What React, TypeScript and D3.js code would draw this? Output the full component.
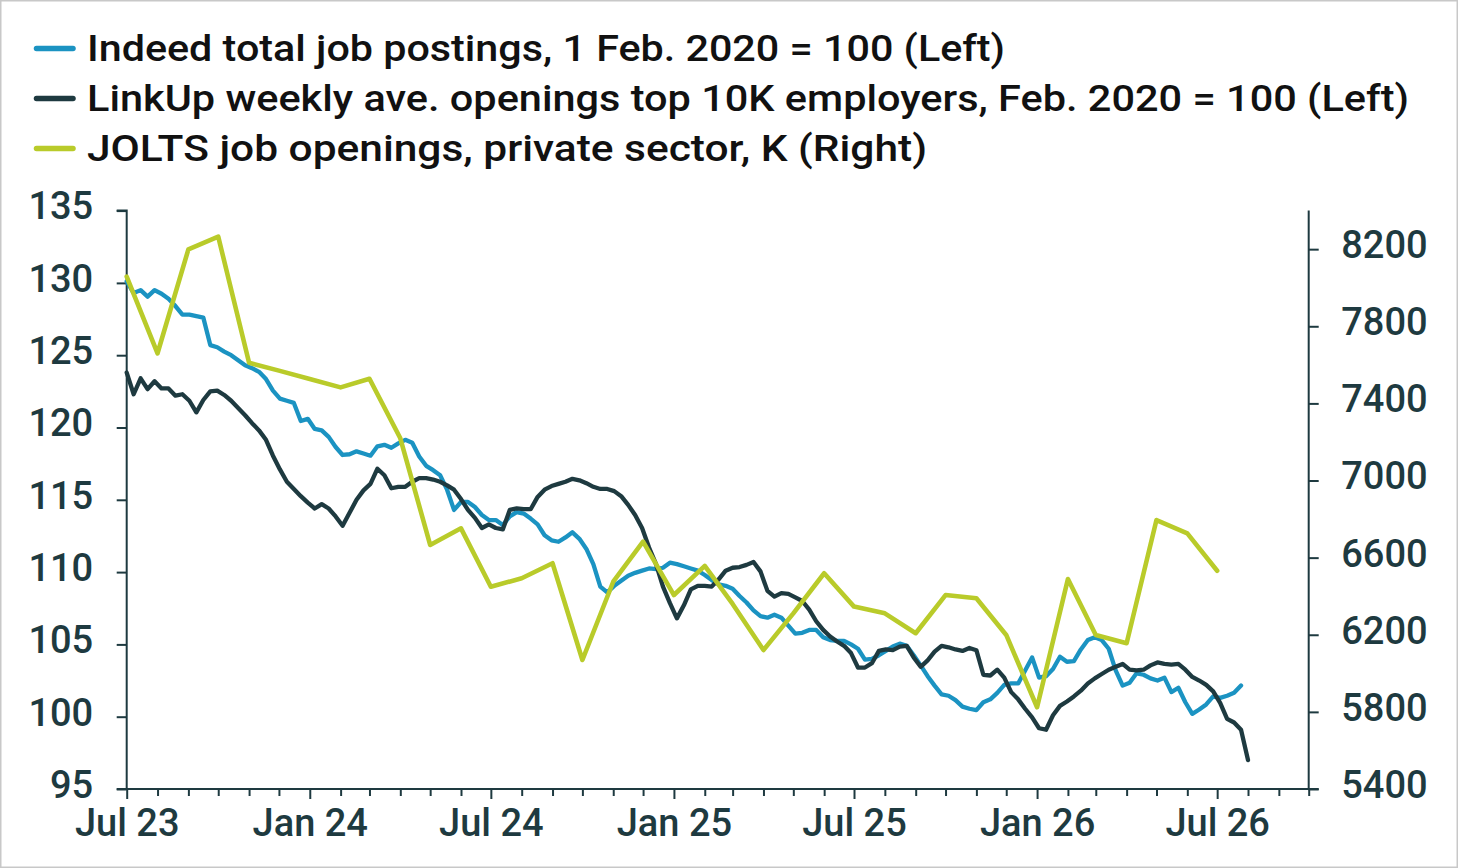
import { useEffect, useRef } from "react"
import * as d3 from "d3"

// Indeed total job postings (1 Feb 2020 = 100), sampled weekly from 1 Jul 2023
const indeedStart = new Date(2023, 6, 1)
const indeedWeekly = [
  130.1, 129.3, 129.5, 129.05, 129.5, 129.25, 128.9, 128.4, 127.8, 127.8,
  127.7, 127.6, 125.7, 125.55, 125.25, 125.0, 124.65, 124.3, 124.1, 123.85,
  123.35, 122.55, 122.0, 121.85, 121.7, 120.45, 120.6, 119.9, 119.8, 119.35,
  118.65, 118.1, 118.15, 118.35, 118.2, 118.05, 118.7, 118.8, 118.6, 118.9,
  119.15, 118.95, 118.0, 117.35, 117.05, 116.7, 115.7, 114.3, 114.85, 114.85,
  114.5, 113.95, 113.6, 113.6, 113.25, 113.85, 114.15, 114.05, 113.7, 113.3,
  112.55, 112.2, 112.1, 112.4, 112.75, 112.3, 111.6, 110.55, 109.0, 108.6,
  109.05, 109.4, 109.75, 109.95, 110.1, 110.25, 110.2, 110.3, 110.65, 110.55,
  110.4, 110.25, 110.1, 109.8, 109.45, 109.15, 109.05, 108.85, 108.35, 107.9,
  107.35, 106.95, 106.85, 107.05, 106.85, 106.3, 105.75, 105.8, 106.0, 106.0,
  105.5, 105.3, 105.25, 105.25, 105.0, 104.7, 103.95, 104.0, 104.25, 104.55,
  104.85, 105.05, 104.9, 104.25, 103.55, 102.8, 102.15, 101.55, 101.45, 101.15,
  100.7, 100.55, 100.45, 101.0, 101.2, 101.65, 102.2, 102.3, 102.3, 103.2,
  104.1, 102.7, 102.8, 103.3, 104.15, 103.8, 103.85, 104.65, 105.3, 105.5,
  105.3, 104.7, 103.2, 102.15, 102.35, 103.0, 102.9, 102.65, 102.5, 102.7,
  101.7, 102.0, 101.0, 100.2, 100.5, 100.85, 101.4, 101.3, 101.45, 101.65,
  102.15,
]

// LinkUp weekly ave. openings, top 10K employers (Feb 2020 = 100)
const linkupStart = new Date(2023, 6, 1)
const linkupWeekly = [
  123.8, 122.3, 123.4, 122.65, 123.2, 122.7, 122.7, 122.2, 122.3, 121.85,
  121.05, 121.9, 122.5, 122.55, 122.25, 121.85, 121.35, 120.85, 120.3, 119.8,
  119.15, 118.05, 117.1, 116.25, 115.75, 115.25, 114.8, 114.4, 114.7, 114.4,
  113.85, 113.2, 114.1, 115.0, 115.65, 116.1, 117.15, 116.7, 115.8, 115.9,
  115.9, 116.25, 116.5, 116.5, 116.4, 116.25, 116.0, 115.7, 115.05, 114.3,
  113.75, 113.05, 113.3, 113.05, 112.95, 114.3, 114.4, 114.35, 114.35, 115.2,
  115.7, 115.95, 116.1, 116.25, 116.45, 116.35, 116.15, 115.9, 115.75, 115.75,
  115.6, 115.25, 114.65, 113.95, 113.05, 111.7, 110.55, 109.0, 107.85, 106.8,
  107.7, 108.8, 109.05, 109.05, 109.0, 109.5, 110.1, 110.3, 110.35, 110.5,
  110.7, 110.05, 108.7, 108.3, 108.55, 108.5, 108.25, 108.0, 107.4, 106.6,
  106.0, 105.55, 105.2, 104.9, 104.4, 103.4, 103.4, 103.7, 104.55, 104.65,
  104.6, 104.85, 104.9, 104.1, 103.45, 103.9, 104.5, 104.9, 104.8, 104.65,
  104.55, 104.75, 104.6, 102.9, 102.85, 103.25, 102.7, 101.7, 101.2, 100.55,
  99.95, 99.2, 99.1, 100.1, 100.75, 101.05, 101.4, 101.8, 102.3, 102.65,
  102.95, 103.25, 103.45, 103.65, 103.25, 103.2, 103.25, 103.55, 103.75, 103.65,
  103.6, 103.65, 103.25, 102.75, 102.5, 102.2, 101.75, 100.95, 99.85, 99.6,
  99.1, 97.0,
]

// JOLTS job openings, private sector, K — monthly from Jul 2023
const joltsStart = new Date(2023, 6, 1)
const joltsMonthly = [
  8057, 7660, 8199, 8265, 7611, 7570, 7527, 7483, 7528, 7219, 6666, 6752,
  6449, 6493, 6571, 6069, 6475, 6683, 6406, 6557, 6360, 6121, 6311, 6519,
  6346, 6311, 6208, 6406, 6389, 6199, 5824, 6489, 6199, 6156, 6795, 6726,
  6532,
]

const leftTicks = [95, 100, 105, 110, 115, 120, 125, 130, 135]
const rightTicks = [5400, 5800, 6200, 6600, 7000, 7400, 7800, 8200]

const legendItems = [
  { label: "Indeed total job postings, 1 Feb. 2020 = 100 (Left)", color: "#1b93c2", width: 918 },
  { label: "LinkUp weekly ave. openings top 10K employers, Feb. 2020 = 100 (Left)", color: "#1e3a40", width: 1322 },
  { label: "JOLTS job openings, private sector, K (Right)", color: "#b9cb2a", width: 840 },
]

const W = 1458
const H = 868
const FONT = "Roboto, 'Liberation Sans', sans-serif"
const INK = "#1e3a40"

export default function App() {
  const svgRef = useRef<SVGSVGElement>(null)

  useEffect(() => {
    if (!svgRef.current) return
    const svg = d3.select(svgRef.current)
    svg.selectAll("*").remove()

    const plot = { left: 126.7, right: 1308.7, top: 210.6, bottom: 789 }

    const x = d3
      .scaleTime()
      .domain([new Date(2023, 6, 1), new Date(2026, 9, 1)])
      .range([plot.left, plot.right])
    const yL = d3.scaleLinear().domain([95, 135]).range([plot.bottom, plot.top])
    const yR = d3.scaleLinear().domain([5400, 8400]).range([plot.bottom, plot.top])

    // frame
    svg
      .append("rect")
      .attr("x", 0.75)
      .attr("y", 0.75)
      .attr("width", W - 1.5)
      .attr("height", H - 1.5)
      .attr("fill", "#fff")
      .attr("stroke", "#c8c8c8")
      .attr("stroke-width", 1.5)

    // legend
    const legend = svg.append("g")
    legendItems.forEach((d, i) => {
      const cy = 48.5 + i * 50
      legend
        .append("line")
        .attr("x1", 36.5)
        .attr("x2", 73)
        .attr("y1", cy)
        .attr("y2", cy)
        .attr("stroke", d.color)
        .attr("stroke-width", 5.5)
        .attr("stroke-linecap", "round")
      legend
        .append("text")
        .attr("x", 87)
        .attr("y", cy + 12.7)
        .attr("font-family", FONT)
        .attr("font-size", 36)
        .attr("font-weight", 500)
        .attr("fill", "#111")
        .attr("textLength", d.width)
        .attr("lengthAdjust", "spacingAndGlyphs")
        .text(d.label)
    })

    // bottom axis
    const months = d3.timeMonth.range(new Date(2023, 6, 1), new Date(2026, 9, 2))
    const fmt = d3.timeFormat("%b %y")
    const xAxis = svg
      .append("g")
      .attr("transform", `translate(0,${plot.bottom})`)
      .call(
        d3
          .axisBottom(x)
          .tickValues(months)
          .tickSize(7)
          .tickFormat((d) => {
            const m = (d as Date).getMonth()
            return m === 0 || m === 6 ? fmt(d as Date) : ""
          })
      )
    xAxis.selectAll(".tick line").attr("y2", (d) => {
      const m = (d as Date).getMonth()
      return m === 0 || m === 6 ? 10 : 7
    })
    xAxis.selectAll(".tick text").attr("y", 47).attr("dy", 0)

    // left axis
    const leftAxis = svg
      .append("g")
      .attr("transform", `translate(${plot.left},0)`)
      .call(d3.axisLeft(yL).tickValues(leftTicks).tickSize(10).tickPadding(23.5))
    leftAxis.selectAll(".tick text").attr("dy", "0.22em")

    // right axis
    const rightAxis = svg
      .append("g")
      .attr("transform", `translate(${plot.right},0)`)
      .call(
        d3
          .axisRight(yR)
          .tickValues(rightTicks)
          .tickSize(10)
          .tickPadding(22.5)
          .tickFormat((d) => String(d))
      )
    rightAxis.selectAll(".tick text").attr("dy", "0.22em")

    for (const g of [xAxis, leftAxis, rightAxis]) {
      g.select(".domain").attr("stroke", INK).attr("stroke-width", 2)
      g.selectAll(".tick line").attr("stroke", INK).attr("stroke-width", 2)
      g.selectAll(".tick text")
        .attr("fill", INK)
        .attr("font-family", FONT)
        .attr("font-size", 38)
        .attr("font-weight", 500)
    }
    leftAxis.select(".domain").attr("d", `M-10,${plot.top}H0V${plot.bottom}H-10`)
    rightAxis.select(".domain").attr("d", `M0,${plot.top}V${plot.bottom}H10`)
    xAxis.select(".domain").attr("d", `M${plot.left},0H${plot.right}`)

    // series
    const indeed = indeedWeekly.map((v, i) => ({ date: d3.timeDay.offset(indeedStart, i * 7), v }))
    const linkup = linkupWeekly.map((v, i) => ({ date: d3.timeDay.offset(linkupStart, i * 7), v }))
    const jolts = joltsMonthly.map((v, i) => ({ date: d3.timeMonth.offset(joltsStart, i), v }))

    const lineL = d3
      .line<{ date: Date; v: number }>()
      .x((d) => x(d.date))
      .y((d) => yL(d.v))
    const lineR = d3
      .line<{ date: Date; v: number }>()
      .x((d) => x(d.date))
      .y((d) => yR(d.v))

    const lines = svg.append("g").attr("fill", "none").attr("stroke-linejoin", "round").attr("stroke-linecap", "round")
    lines.append("path").attr("d", lineL(indeed)).attr("stroke", legendItems[0].color).attr("stroke-width", 4.3)
    lines.append("path").attr("d", lineL(linkup)).attr("stroke", legendItems[1].color).attr("stroke-width", 4.3)
    lines.append("path").attr("d", lineR(jolts)).attr("stroke", legendItems[2].color).attr("stroke-width", 4.6)
  }, [])

  return (
    <svg
      ref={svgRef}
      width={W}
      height={H}
      style={{ position: "absolute", left: 0, top: 0, display: "block" }}
    />
  )
}
